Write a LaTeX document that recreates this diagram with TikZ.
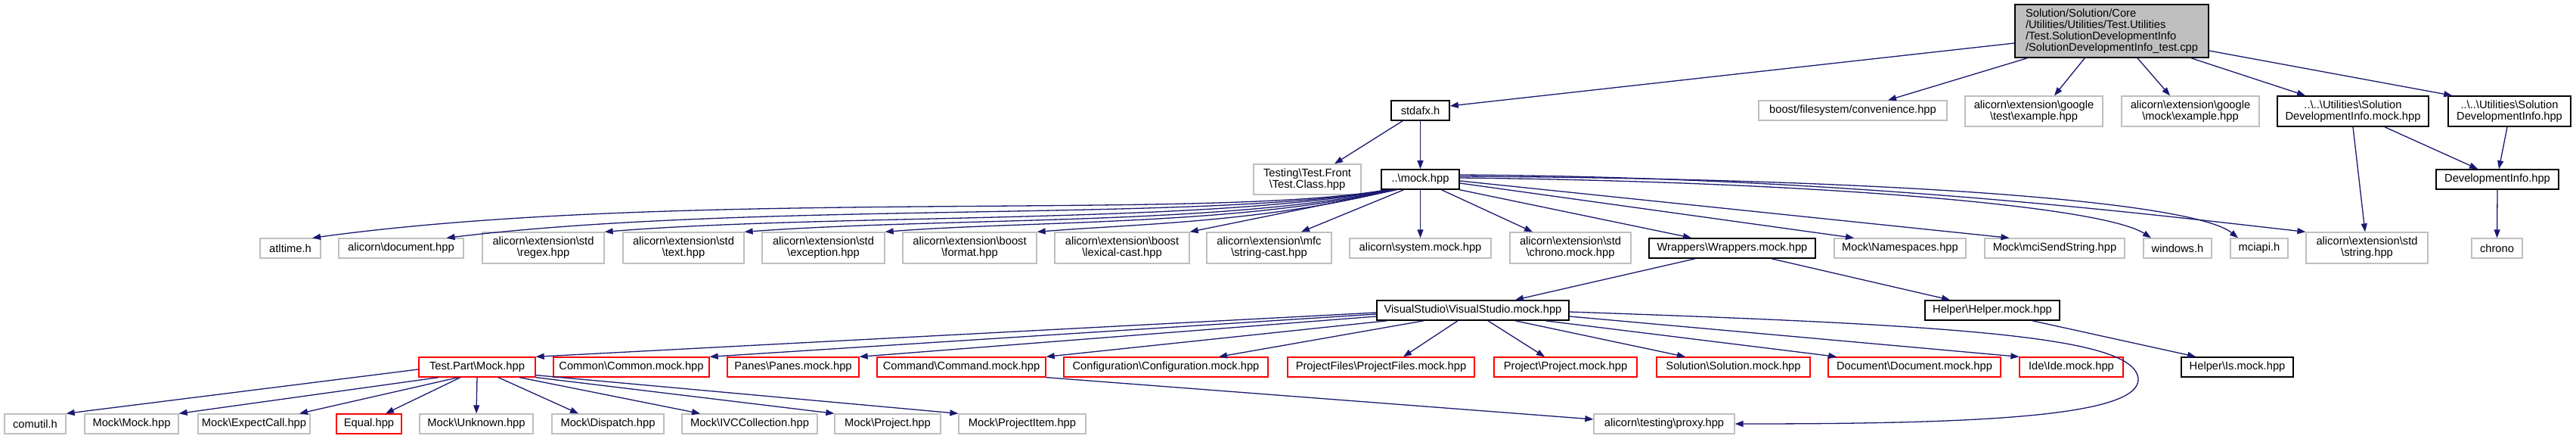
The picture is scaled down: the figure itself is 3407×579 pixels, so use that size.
\documentclass[tikz,border=0pt]{standalone}
\usepackage{fontspec}
\setmainfont{Liberation Sans}
\usetikzlibrary{arrows.meta}
\definecolor{edgec}{HTML}{191970}
\definecolor{grayb}{HTML}{BFBFBF}
\definecolor{redb}{HTML}{FF0000}
\newcommand\bs{\textbackslash}
\newcommand\mynode[7]{\node[#6,minimum width={(#3-#2)*1pt},minimum height={(#5-#4)*1pt}] (#1) at ({(#2+#3)/2},{(#4+#5)/2}) {#7};}
\tikzset{
  box/.style={draw,line width=1.3pt,inner xsep=2pt,inner ysep=0pt,align=center,fill=white,font=\fontsize{14.7}{15}\selectfont},
  blk/.style={box,draw=black,line width=1.6pt},
  gry/.style={box,draw=grayb},
  rd/.style={box,draw=redb},
  rootbox/.style={box,draw=black,fill=grayb,align=left,line width=1.6pt},
  edge/.style={draw=edgec,line width=1.3pt,-{Triangle[length=11pt,width=8pt]}}
}
\begin{document}
\begin{tikzpicture}[x=1pt,y=-1pt]
\fill[white] (0,0) rectangle (3407,579);
\useasboundingbox (0,0) rectangle (3407,579);
% level 0
\mynode{root}{2665}{2921}{6}{76}{rootbox}{Solution/Solution/Core\\/Utilities/Utilities/Test.Utilities\\/Test.SolutionDevelopmentInfo\\/SolutionDevelopmentInfo\_test.cpp}
% level 1
\mynode{stdafx}{1840}{1917}{133}{159}{blk}{stdafx.h}
\mynode{boost}{2326}{2575}{133}{159}{gry}{boost/filesystem/convenience.hpp}
\mynode{gtest}{2599}{2781}{127}{167}{gry}{alicorn\bs extension\bs google\\\bs test\bs example.hpp}
\mynode{gmock}{2806}{2988}{127}{167}{gry}{alicorn\bs extension\bs google\\\bs mock\bs example.hpp}
\mynode{dimock}{3012}{3212}{127}{167}{blk}{..\bs ..\bs Utilities\bs Solution\\DevelopmentInfo.mock.hpp}
\mynode{sdi}{3238}{3400}{127}{167}{blk}{..\bs ..\bs Utilities\bs Solution\\DevelopmentInfo.hpp}
% level 2
\mynode{tclass}{1658}{1800}{217}{257}{gry}{Testing\bs Test.Front\\\bs Test.Class.hpp}
\mynode{mock}{1827}{1930}{224}{250}{blk}{..\bs mock.hpp}
\mynode{devinfo}{3222}{3384}{224}{250}{blk}{DevelopmentInfo.hpp}
% level 3
\mynode{atltime}{344}{424}{315}{341}{gry}{atltime.h}
\mynode{document}{448}{613}{315}{341}{gry}{alicorn\bs document.hpp}
\mynode{regex}{638}{799}{307}{348}{gry}{alicorn\bs extension\bs std\\\bs regex.hpp}
\mynode{text}{824}{984}{307}{348}{gry}{alicorn\bs extension\bs std\\\bs text.hpp}
\mynode{exception}{1008}{1170}{307}{348}{gry}{alicorn\bs extension\bs std\\\bs exception.hpp}
\mynode{format}{1194}{1371}{307}{348}{gry}{alicorn\bs extension\bs boost\\\bs format.hpp}
\mynode{lexical}{1395}{1573}{307}{348}{gry}{alicorn\bs extension\bs boost\\\bs lexical-cast.hpp}
\mynode{strcast}{1596}{1761}{307}{348}{gry}{alicorn\bs extension\bs mfc\\\bs string-cast.hpp}
\mynode{sysmock}{1785}{1972}{315}{341}{gry}{alicorn\bs system.mock.hpp}
\mynode{chronomock}{1997}{2157}{307}{348}{gry}{alicorn\bs extension\bs std\\\bs chrono.mock.hpp}
\mynode{wrappers}{2181}{2401}{315}{341}{blk}{Wrappers\bs Wrappers.mock.hpp}
\mynode{namespaces}{2426}{2600}{315}{341}{gry}{Mock\bs Namespaces.hpp}
\mynode{mcisend}{2625}{2810}{315}{341}{gry}{Mock\bs mciSendString.hpp}
\mynode{windows}{2835}{2925}{315}{341}{gry}{windows.h}
\mynode{mciapi}{2950}{3026}{315}{341}{gry}{mciapi.h}
\mynode{string}{3050}{3211}{307}{348}{gry}{alicorn\bs extension\bs std\\\bs string.hpp}
\mynode{chrono}{3269}{3336}{315}{341}{gry}{chrono}
% level 4
\mynode{vs}{1821}{2075}{397}{423}{blk}{VisualStudio\bs VisualStudio.mock.hpp}
\mynode{helper}{2546}{2724}{397}{423}{blk}{Helper\bs Helper.mock.hpp}
% level 5
\mynode{testpart}{554}{708}{472}{498}{rd}{Test.Part\bs Mock.hpp}
\mynode{common}{732}{938}{472}{498}{rd}{Common\bs Common.mock.hpp}
\mynode{panes}{962}{1136}{472}{498}{rd}{Panes\bs Panes.mock.hpp}
\mynode{command}{1160}{1383}{472}{498}{rd}{Command\bs Command.mock.hpp}
\mynode{config}{1407}{1677}{472}{498}{rd}{Configuration\bs Configuration.mock.hpp}
\mynode{projfiles}{1703}{1950}{472}{498}{rd}{ProjectFiles\bs ProjectFiles.mock.hpp}
\mynode{project}{1976}{2165}{472}{498}{rd}{Project\bs Project.mock.hpp}
\mynode{solution}{2191}{2394}{472}{498}{rd}{Solution\bs Solution.mock.hpp}
\mynode{docmock}{2418}{2646}{472}{498}{rd}{Document\bs Document.mock.hpp}
\mynode{ide}{2671}{2808}{472}{498}{rd}{Ide\bs Ide.mock.hpp}
\mynode{ismock}{2885}{3033}{472}{498}{blk}{Helper\bs Is.mock.hpp}
% level 6
\mynode{comutil}{6}{87}{547}{573}{gry}{comutil.h}
\mynode{mmock}{112}{236}{547}{573}{gry}{Mock\bs Mock.hpp}
\mynode{expect}{262}{410}{547}{573}{gry}{Mock\bs ExpectCall.hpp}
\mynode{equal}{445}{531}{547}{573}{rd}{Equal.hpp}
\mynode{unknown}{555}{705}{547}{573}{gry}{Mock\bs Unknown.hpp}
\mynode{dispatch}{730}{878}{547}{573}{gry}{Mock\bs Dispatch.hpp}
\mynode{ivc}{902}{1081}{547}{573}{gry}{Mock\bs IVCCollection.hpp}
\mynode{mproject}{1104}{1244}{547}{573}{gry}{Mock\bs Project.hpp}
\mynode{mprojitem}{1268}{1436}{547}{573}{gry}{Mock\bs ProjectItem.hpp}
\mynode{proxy}{2108}{2294}{547}{573}{gry}{alicorn\bs testing\bs proxy.hpp}
% root edges
\draw[edge] ([yshift=-16pt]root.west) -- ([yshift=6pt]stdafx.east);
\draw[edge] ([xshift=17pt]root.south west) -- ([xshift=46.5pt]boost.north);
\draw[edge] ([xshift=93pt]root.south west) -- ([xshift=27pt]gtest.north);
\draw[edge] ([xshift=34pt]root.south) -- ([xshift=-27pt]gmock.north);
\draw[edge] ([xshift=105pt]root.south) -- ([xshift=-63pt]dimock.north);
\draw[edge] ([yshift=-26pt]root.east) -- ([xshift=6pt]sdi.north west);
% stdafx
\draw[edge] ([xshift=-23.5pt]stdafx.south) -- ([xshift=36pt]tclass.north);
\draw[edge] (stdafx.south) -- (mock.north);
% mock left curves
\draw[edge] ([xshift=-45pt]mock.south) .. controls (1600,292) and (900,248) .. ([xshift=29pt]atltime.north);
\draw[edge] ([xshift=-43pt]mock.south) .. controls (1600,294) and (1000,265) .. ([xshift=60pt]document.north);
\draw[edge] ([xshift=-41pt]mock.south) .. controls (1600,296) and (1100,282) .. (regex.north east);
\draw[edge] ([xshift=-39pt]mock.south) .. controls (1620,298) and (1250,287) .. (text.north east);
\draw[edge] ([xshift=-37pt]mock.south) .. controls (1640,298) and (1350,292) .. (exception.north east);
\draw[edge] ([xshift=-35pt]mock.south) .. controls (1670,294) and (1500,296) .. (format.north east);
\draw[edge] ([xshift=-31pt]mock.south) -- (lexical.north east);
\draw[edge] ([xshift=-22pt]mock.south) -- ([xshift=42.5pt]strcast.north);
\draw[edge] (mock.south) -- (sysmock.north);
\draw[edge] ([xshift=28pt]mock.south) -- ([xshift=-50pt]chronomock.north);
\draw[edge] (mock.south east) -- ([xshift=-54pt]wrappers.north);
\draw[edge] ([yshift=-5pt]mock.east) -- ([xshift=-61pt]namespaces.north);
\draw[edge] ([yshift=-2pt]mock.east) -- ([xshift=-60pt]mcisend.north);
\draw[edge] ([yshift=2pt]mock.east) .. controls (2400,240) and (2780,272) .. ([xshift=-35pt]windows.north);
\draw[edge] ([yshift=4pt]mock.east) .. controls (2500,236) and (2900,266) .. ([xshift=-28pt]mciapi.north);
\draw[edge] ([yshift=6pt]mock.east) .. controls (2450,234) and (2850,284) .. (string.north west);
% DevelopmentInfo
\draw[edge] (dimock.south) -- ([xshift=-2.5pt]string.north);
\draw[edge] ([xshift=42pt]dimock.south) -- ([xshift=-26pt]devinfo.north);
\draw[edge] ([xshift=-3pt]sdi.south) -- ([xshift=2pt]devinfo.north);
\draw[edge] (devinfo.south) -- (chrono.north);
% wrappers
\draw[edge] ([xshift=-49pt]wrappers.south) -- ([xshift=56pt]vs.north);
\draw[edge] ([xshift=52pt]wrappers.south) -- ([xshift=-56pt]helper.north);
\draw[edge] ([xshift=53pt]helper.south) -- ([xshift=-55pt]ismock.north);
% visual studio
\draw[edge] ([yshift=-3pt]vs.west) -- (testpart.north east);
\draw[edge] ([yshift=-5pt]vs.west) -- (common.north east);
\draw[edge] ([yshift=-8pt]vs.west) -- (panes.north east);
\draw[edge] ([xshift=14pt]vs.south west) -- (command.north east);
\draw[edge] ([xshift=-65pt]vs.south) -- ([xshift=70pt]config.north);
\draw[edge] ([xshift=-20pt]vs.south) -- ([xshift=29.5pt]projfiles.north);
\draw[edge] ([xshift=20pt]vs.south) -- ([xshift=-27.5pt]project.north);
\draw[edge] ([xshift=56pt]vs.south) -- ([xshift=-63.5pt]solution.north);
\draw[edge] ([xshift=96pt]vs.south) -- ([xshift=12pt]docmock.north west);
\draw[edge] ([yshift=-8pt]vs.east) -- (ide.north west);
\draw[edge] ([yshift=-2pt]vs.east) .. controls (2600,430) and (2822,445) .. (2828,500) .. controls (2832,552) and (2600,560) .. (proxy.east);
% test part
\draw[edge] ([yshift=-3pt]testpart.west) -- (comutil.north east);
\draw[edge] ([xshift=-51pt]testpart.south) -- (mmock.north east);
\draw[edge] ([xshift=-25pt]testpart.south) -- ([xshift=60pt]expect.north);
\draw[edge] ([xshift=-22pt]testpart.south) -- ([xshift=22pt]equal.north);
\draw[edge] (testpart.south) -- (unknown.north);
\draw[edge] ([xshift=28pt]testpart.south) -- ([xshift=-39pt]dispatch.north);
\draw[edge] ([xshift=56pt]testpart.south) -- ([xshift=-65.5pt]ivc.north);
\draw[edge] (testpart.south east) -- (mproject.north west);
\draw[edge] ([yshift=3pt]testpart.south east) -- (mprojitem.north west);
% command
\draw[edge] (command.south east) -- ([yshift=6pt]proxy.west);
\end{tikzpicture}
\end{document}
